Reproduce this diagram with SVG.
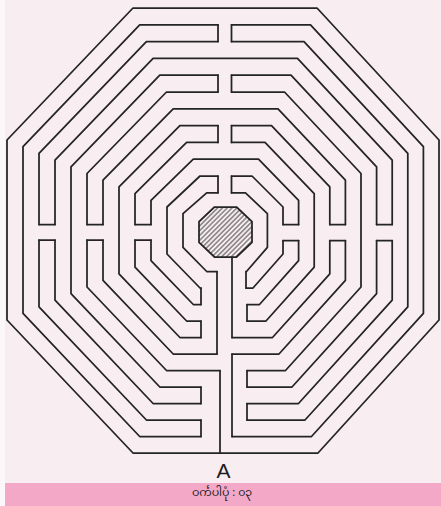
<svg xmlns="http://www.w3.org/2000/svg" width="441" height="506" viewBox="0 0 441 506">
<defs>
<style>
.w{fill:none;stroke:#242424;stroke-width:1.75;stroke-linecap:round;stroke-linejoin:round}
.lbl{font-family:"Liberation Sans",Arial,sans-serif;fill:#1e1e1e}
.cap{font-family:"Noto Sans Myanmar","Padauk","Myanmar Text","Noto Sans",sans-serif;fill:#1e1e1e;font-size:11px}
</style>
<pattern id="hatch" patternUnits="userSpaceOnUse" width="3.4" height="10" patternTransform="rotate(45)">
<line x1="1.7" y1="0" x2="1.7" y2="10" stroke="#333" stroke-width="0.9"/>
</pattern>
</defs>
<rect x="0" y="0" width="441" height="506" fill="#f8eef2"/>
<rect x="0" y="0" width="5" height="506" fill="#fcf8fa"/>
<rect x="5" y="483" width="436" height="23" fill="#f4a8c8"/>

<g id="maze-walls">
<path class="w" d="M224.75,8 L133,8 L7,140 L7,320 L133,453 L318,453 L439,320 L439,140 L317,8 Z"/>
<path class="w" d="M218,24.8 L139.7,24.8 L23,146.7 L23,313.4 L139.7,436.5 L201,436.5"/>
<path class="w" d="M231.5,24.8 L310.5,24.8 L423.4,146.7 L423.4,313.4 L311.5,436.5 L232,436.5"/>
<path class="w" d="M218,41.6 L146.4,41.6 L39,153.4 L39,224.5"/>
<path class="w" d="M39,240 L39,306.8 L146.4,420 L201,420"/>
<path class="w" d="M231.5,41.6 L304,41.6 L407.8,153.4 L407.8,306.8 L305,420 L247,420"/>
<path class="w" d="M55,224.5 L55,160.1 L153.1,58.4 L297.5,58.4 L392.2,160.1 L392.2,224.5"/>
<path class="w" d="M55,240 L55,300.2 L153.1,403.5 L201,403.5"/>
<path class="w" d="M247,403.5 L298.5,403.5 L392.2,300.2 L392.2,240.5"/>
<path class="w" d="M218,75.2 L159.8,75.2 L71,166.8 L71,293.6 L159.8,387 L201,387"/>
<path class="w" d="M231.5,75.2 L291,75.2 L376.6,166.8 L376.6,224.5"/>
<path class="w" d="M247,387 L292,387 L376.6,293.6 L376.6,240.5"/>
<path class="w" d="M218,92 L166.5,92 L87,173.5 L87,224.5"/>
<path class="w" d="M87,240 L87,287 L166.5,370.5 L220,370.5"/>
<path class="w" d="M231.5,92 L284.5,92 L361,173.5 L361,287 L285.5,370.5 L247,370.5"/>
<path class="w" d="M103,224.5 L103,180.2 L173.2,108.8 L278,108.8 L345.4,180.2 L345.4,224.5"/>
<path class="w" d="M103,240 L103,280.4 L173.2,354 L217,354"/>
<path class="w" d="M232,354 L279,354 L345.4,280.4 L345.4,240.5"/>
<path class="w" d="M218,125.6 L179.9,125.6 L119,186.9 L119,273.8 L179.9,337.5 L201,337.5"/>
<path class="w" d="M231.5,125.6 L271.5,125.6 L329.8,186.9 L329.8,224.5"/>
<path class="w" d="M232,337.5 L272.5,337.5 L329.8,273.8 L329.8,240.5"/>
<path class="w" d="M218,142.4 L186.6,142.4 L135,193.6 L135,224.5"/>
<path class="w" d="M135,240 L135,267.2 L186.6,321 L201,321"/>
<path class="w" d="M231.5,142.4 L265,142.4 L314.2,193.6 L314.2,267.2 L266,321 L247,321"/>
<path class="w" d="M151,224.5 L151,200.3 L193.3,159.2 L258.5,159.2 L298.6,200.3 L298.6,224.5"/>
<path class="w" d="M151,240 L151,260.6 L193.3,304.5 L201,304.5"/>
<path class="w" d="M247,304.5 L259.5,304.5 L298.6,260.6 L298.6,240.5"/>
<path class="w" d="M218,176 L200,176 L167,207 L167,254 L200,288 L201,288"/>
<path class="w" d="M231.5,176 L252,176 L283,207 L283,224.5"/>
<path class="w" d="M246,288 L253,288 L283,254 L283,240.5"/>
<path class="w" d="M218,192.8 L206.7,192.8 L183,213.7 L183,247.4 L206.7,271.5 L217,271.5"/>
<path class="w" d="M231.5,192.8 L245.5,192.8 L267.4,213.7 L267.4,247.4 L246.5,271.5 L246,271.5"/>
</g>

<g id="connectors">
<path class="w" d="M218,24.8 V41.6 M218,75.2 V92 M218,125.6 V142.4 M218,176 V192.8"/>
<path class="w" d="M231.5,24.8 V41.6 M231.5,75.2 V92 M231.5,125.6 V142.4 M231.5,176 V192.8"/>
<path class="w" d="M39,224.5 H55 M87,224.5 H103 M135,224.5 H151 M39,240 H55 M87,240 H103 M135,240 H151"/>
<path class="w" d="M376.6,224.5 H392.2 M329.8,224.5 H345.4 M283,224.5 H298.6 M376.6,240.5 H392.2 M329.8,240.5 H345.4 M283,240.5 H298.6"/>
<path class="w" d="M201,420 V436.5 M201,387 V403.5 M201,321 V337.5 M201,288 V304.5"/>
<path class="w" d="M220,370.5 V453 M217,271.5 V354"/>
<path class="w" d="M232,354 V436.5 M247,370.5 V387 M247,403.5 V420 M247,304.5 V321 M246,271.5 V288 M232,257 V337.5"/>
</g>

<g id="center">
<polygon points="214.5,207 236.5,207 252,221.6 252,242.4 236.5,257 214.5,257 199,242.4 199,221.6" fill="url(#hatch)" stroke="#242424" stroke-width="1.75" stroke-linejoin="round"/>
</g>

<g id="labels">
<text class="lbl" x="223.5" y="478" font-size="21" text-anchor="middle">A</text>
<text class="cap" x="222" y="496" text-anchor="middle">ဝင်္ကပါပုံ : ၀၃</text>
</g>
</svg>
